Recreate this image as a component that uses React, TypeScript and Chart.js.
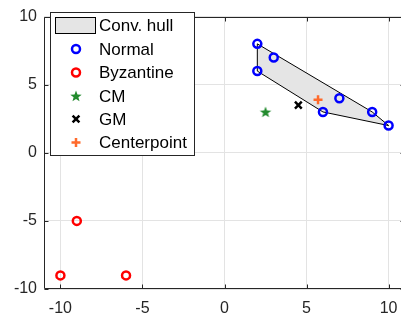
import React, { useEffect, useRef } from "react";
import { Chart, registerables } from "chart.js";

Chart.register(...registerables);

// ---- data ----
const normalX = [2, 3, 2, 7, 6, 9, 10];
const normalY = [8, 7, 6, 4, 3, 3, 2];
const byzX = [-9, -10, -6];
const byzY = [-5, -9, -9];
const cmPoint = { x: 2.5, y: 3 };
const gmPoint = { x: 4.5, y: 3.5 };
const centerPoint = { x: 5.7, y: 3.9 };
const hullX = [2, 9, 10, 6, 2, 2];
const hullY = [8, 3, 2, 3, 6, 8];
const xTicks = [-10, -5, 0, 5, 10];
const yTicks = [-10, -5, 0, 5, 10];
const legendLabels = ["Conv. hull", "Normal", "Byzantine", "CM", "GM", "Centerpoint"];

const BLUE = "#0000ff";
const RED = "#ff0000";
const GREEN = "#238b2e";
const ORANGE = "#ff6a2b";
const HULL_FILL = "#e5e5e5";
const AXIS = "#262626";
const FONT = "'Liberation Sans', Arial, Helvetica, sans-serif";

function makeStar(color: string, outer: number, inner: number): HTMLCanvasElement {
  const size = Math.ceil(outer * 2 + 2);
  const c = document.createElement("canvas");
  c.width = size;
  c.height = size;
  const ctx = c.getContext("2d")!;
  drawStarPath(ctx, size / 2, size / 2 + 0.5, outer, inner);
  ctx.fillStyle = color;
  ctx.fill();
  return c;
}

function drawStarPath(ctx: CanvasRenderingContext2D, cx: number, cy: number, outer: number, inner: number) {
  ctx.beginPath();
  for (let i = 0; i < 10; i++) {
    const r = i % 2 === 0 ? outer : inner;
    const a = -Math.PI / 2 + (i * Math.PI) / 5;
    const px = cx + r * Math.cos(a);
    const py = cy + r * Math.sin(a);
    if (i === 0) ctx.moveTo(px, py);
    else ctx.lineTo(px, py);
  }
  ctx.closePath();
}

const axesPlugin = {
  id: "matlabAxes",
  afterDraw(chart: any) {
    const { ctx, chartArea } = chart;
    const { left, right, top, bottom } = chartArea;
    const xs = chart.scales.x;
    const ys = chart.scales.y;
    ctx.save();
    ctx.strokeStyle = AXIS;
    ctx.lineWidth = 1;
    const L = Math.round(left) + 0.5;
    const R = Math.round(right) - 0.5;
    const T = Math.round(top) + 0.5;
    const B = Math.round(bottom) - 0.5;
    ctx.beginPath();
    ctx.rect(L, T, R - L, B - T);
    ctx.stroke();
    const tl = 4;
    ctx.beginPath();
    xTicks.forEach((v) => {
      const px = Math.round(xs.getPixelForValue(v)) + 0.5;
      ctx.moveTo(px, B);
      ctx.lineTo(px, B - tl);
      ctx.moveTo(px, T);
      ctx.lineTo(px, T + tl);
    });
    yTicks.forEach((v) => {
      const py = Math.round(ys.getPixelForValue(v)) + 0.5;
      ctx.moveTo(L, py);
      ctx.lineTo(L + tl, py);
      ctx.moveTo(R, py);
      ctx.lineTo(R - tl, py);
    });
    ctx.stroke();

    // legend
    const bx = 50.5, by = 12.5, bw = 144, bh = 143;
    ctx.fillStyle = "#ffffff";
    ctx.fillRect(bx, by, bw, bh);
    ctx.strokeStyle = AXIS;
    ctx.strokeRect(bx, by, bw, bh);
    const rowY = [25.5, 49, 72.5, 96, 119, 142.5];
    const mx = 76;
    const tx = 99;
    // hull patch
    ctx.fillStyle = HULL_FILL;
    ctx.fillRect(55.5, 17.5, 40, 16);
    ctx.strokeStyle = "#000000";
    ctx.strokeRect(55.5, 17.5, 40, 16);
    // normal
    ctx.lineWidth = 2.5;
    ctx.strokeStyle = BLUE;
    ctx.beginPath();
    ctx.arc(mx, rowY[1], 4, 0, Math.PI * 2);
    ctx.stroke();
    ctx.strokeStyle = RED;
    ctx.beginPath();
    ctx.arc(mx, rowY[2], 4, 0, Math.PI * 2);
    ctx.stroke();
    // CM star
    drawStarPath(ctx, mx, rowY[3] + 0.5, 6, 2.5);
    ctx.fillStyle = GREEN;
    ctx.fill();
    // GM x
    ctx.strokeStyle = "#000000";
    const d = 3.4;
    ctx.beginPath();
    ctx.moveTo(mx - d, rowY[4] - d);
    ctx.lineTo(mx + d, rowY[4] + d);
    ctx.moveTo(mx + d, rowY[4] - d);
    ctx.lineTo(mx - d, rowY[4] + d);
    ctx.stroke();
    // centerpoint +
    ctx.strokeStyle = ORANGE;
    const p = 4.5;
    ctx.beginPath();
    ctx.moveTo(mx - p, rowY[5]);
    ctx.lineTo(mx + p, rowY[5]);
    ctx.moveTo(mx, rowY[5] - p);
    ctx.lineTo(mx, rowY[5] + p);
    ctx.stroke();
    // texts
    ctx.fillStyle = "#000000";
    ctx.font = `17px ${FONT}`;
    ctx.textBaseline = "middle";
    ctx.textAlign = "left";
    legendLabels.forEach((t, i) => {
      ctx.fillText(t, tx, rowY[i] + 1);
    });
    ctx.restore();
  },
};

export default function App() {
  const ref = useRef<HTMLCanvasElement | null>(null);
  useEffect(() => {
    if (!ref.current) return;
    const star = makeStar(GREEN, 6, 2.5);
    const tickFont = { family: FONT, size: 16 };
    const chart = new Chart(ref.current, {
      type: "scatter",
      data: {
        datasets: [
          {
            label: "Centerpoint",
            data: [centerPoint],
            pointStyle: "cross",
            pointRadius: 4.5,
            pointBorderWidth: 2.5,
            borderColor: ORANGE,
            backgroundColor: ORANGE,
          },
          {
            label: "GM",
            data: [gmPoint],
            pointStyle: "crossRot",
            pointRadius: 4.8,
            pointBorderWidth: 2.5,
            borderColor: "#000000",
            backgroundColor: "#000000",
          },
          {
            label: "CM",
            data: [cmPoint],
            pointStyle: star as any,
            pointRadius: 6,
            borderColor: GREEN,
            backgroundColor: GREEN,
          },
          {
            label: "Byzantine",
            data: byzX.map((x, i) => ({ x, y: byzY[i] })),
            pointStyle: "circle",
            pointRadius: 4,
            pointBorderWidth: 2.5,
            borderColor: RED,
            backgroundColor: "rgba(0,0,0,0)",
          },
          {
            label: "Normal",
            data: normalX.map((x, i) => ({ x, y: normalY[i] })),
            pointStyle: "circle",
            pointRadius: 4,
            pointBorderWidth: 2.5,
            borderColor: BLUE,
            backgroundColor: "rgba(0,0,0,0)",
          },
          {
            label: "Conv. hull",
            data: hullX.map((x, i) => ({ x, y: hullY[i] })),
            showLine: true,
            fill: "shape",
            tension: 0,
            pointRadius: 0,
            borderColor: "#000000",
            borderWidth: 1,
            backgroundColor: HULL_FILL,
          } as any,
        ],
      },
      options: {
        animation: false,
        responsive: false,
        devicePixelRatio: 1,
        layout: { padding: { left: 0, top: 7, right: 5, bottom: 0 }, autoPadding: false } as any,
        plugins: {
          legend: { display: false },
          tooltip: { enabled: false },
        },
        scales: {
          x: {
            type: "linear",
            min: -11,
            max: 11,
            afterBuildTicks: (s: any) => {
              s.ticks = xTicks.map((v) => ({ value: v }));
            },
            afterFit: (s: any) => {
              s.height = 33;
            },
            grid: { color: "#e3e3e3", drawTicks: false, lineWidth: 1 },
            border: { display: false },
            ticks: {
              color: AXIS,
              font: tickFont,
              padding: 10,
              maxRotation: 0,
              autoSkip: false,
              callback: (v: any) => String(v),
            },
          },
          y: {
            type: "linear",
            min: -10,
            max: 10,
            afterBuildTicks: (s: any) => {
              s.ticks = yTicks.map((v) => ({ value: v }));
            },
            afterFit: (s: any) => {
              s.width = 44;
            },
            grid: { color: "#e3e3e3", drawTicks: false, lineWidth: 1 },
            border: { display: false },
            ticks: {
              color: AXIS,
              font: tickFont,
              padding: 7,
              autoSkip: false,
              callback: (v: any) => String(v),
            },
          },
        },
      },
      plugins: [axesPlugin],
    });
    return () => chart.destroy();
  }, []);
  return (
    <div
      style={{
        position: "fixed",
        left: 0,
        top: 0,
        width: 401,
        height: 322,
        overflow: "hidden",
        background: "#ffffff",
      }}
    >
      <canvas ref={ref} width={410} height={322} style={{ display: "block" }} />
    </div>
  );
}
